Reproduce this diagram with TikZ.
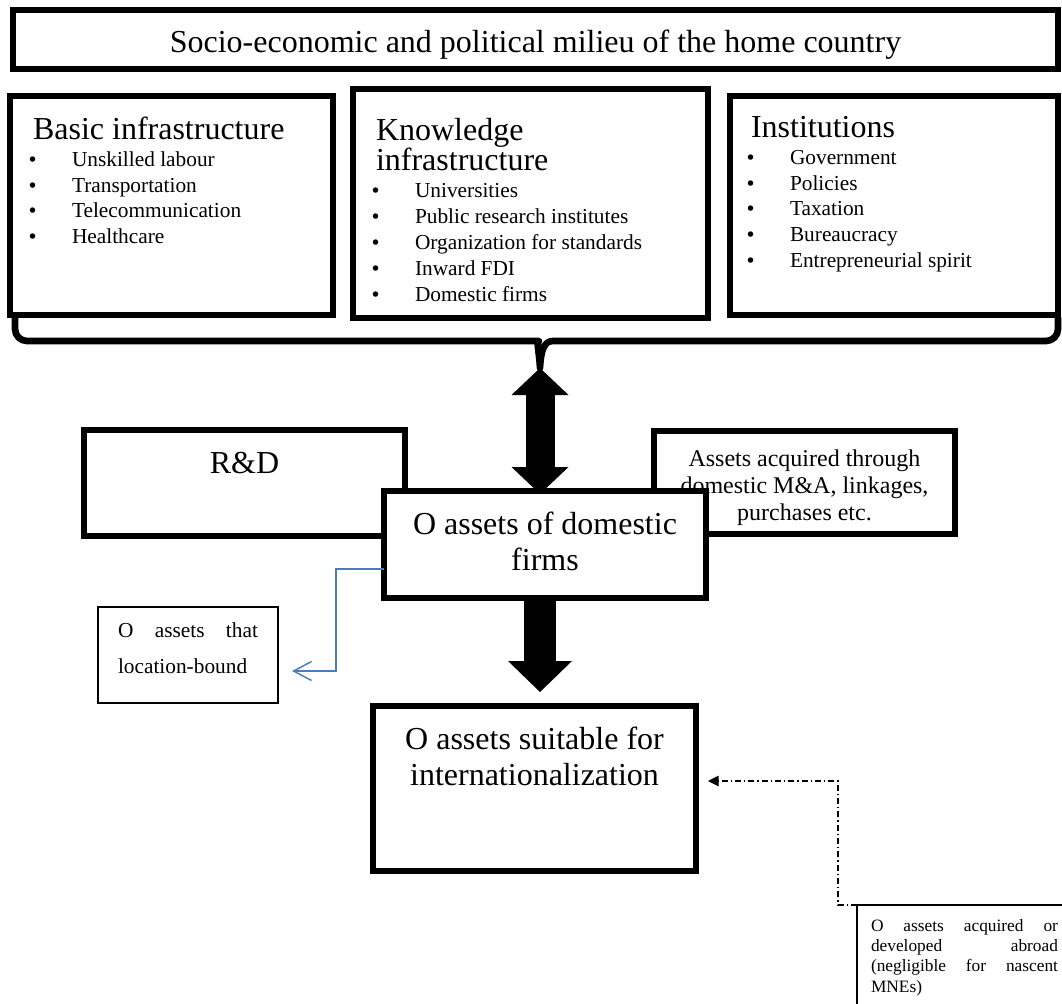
\documentclass[tikz,border=0pt]{standalone}
\usepackage{fontspec}
\setmainfont{Liberation Serif}
\newfontfamily\bulletfont{DejaVu Sans}
\usepackage{tikz}
\usetikzlibrary{arrows.meta, calc, positioning}
\definecolor{linkblue}{HTML}{4A7EBB}
\setlength{\parskip}{0pt}
\setlength{\lineskiplimit}{-20pt}
\newcommand{\boxtitle}[1]{{\fontsize{24}{20.25}\selectfont\leftskip=4.5pt #1\par}\vspace{1pt}}
\newcommand{\itm}[1]{\par\noindent\makebox[33.75pt][l]{\bulletfont\fontsize{14}{19.4}\selectfont •}#1}

\begin{document}
\begin{tikzpicture}[x=0.75pt, y=-0.75pt,
    box/.style={draw, line width=4.5pt, fill=white, outer sep=0pt, inner ysep=0pt, anchor=north west},
    listbox/.style={box, align=flush left, font=\fontsize{16}{19.4}\selectfont},
    bigbox/.style={box, inner xsep=0pt, align=flush center, font=\fontsize{24}{27.5}\selectfont},
    notebox/.style={draw, line width=1pt, fill=white, outer sep=0pt, inner ysep=0pt, anchor=north west, align=justify},
    brace/.style={line width=5pt, line cap=round, line join=round},
    fatboth/.style={line width=21.75pt, {Triangle[length=20.25pt, width=42.75pt, line width=0pt]}-{Triangle[length=20.25pt, width=42.75pt, line width=0pt]}},
    fatdown/.style={line width=24pt, -{Triangle[length=23.25pt, width=48pt, line width=0pt]}},
    bluelink/.style={draw=linkblue, line width=1.1pt, -{Straight Barb[length=13.5pt, width=14.25pt]}},
    dashlink/.style={line width=0.8pt, dash pattern=on 4.5pt off 2.25pt on 1pt off 2.25pt, -{Triangle[length=8pt, width=8pt]}}]
        \useasboundingbox (0, 0) rectangle (1062, 1003);
        \clip (0, 0) rectangle (1062, 1003);

        % home country
        \node[box, align=flush center, inner xsep=0pt, text width=783.75pt, text height=31.5pt, text depth=12.75pt, font=\fontsize{24}{27}\selectfont] (milieu) at (13, 10) {Socio-economic and political milieu of the home country};
        \node[listbox, inner xsep=12.75pt, text width=216.75pt, text height=32.25pt, text depth=132pt] (basic) at (10, 96) {\boxtitle{Basic infrastructure}\itm{Unskilled labour}\itm{Transportation}\itm{Telecommunication}\itm{Healthcare}};
        \node[listbox, inner xsep=12.75pt, text width=240.75pt, text height=38.25pt, text depth=133.5pt] (knowledge) at (353, 89) {\boxtitle{Knowledge\\infrastructure}\itm{Universities}\itm{Public research institutes}\itm{Organization for standards}\itm{Inward FDI}\itm{Domestic firms}};
        \node[listbox, inner xsep=11.25pt, text width=223.5pt, text height=30.75pt, text depth=133.5pt] (institutions) at (730, 96) {\boxtitle{Institutions}\itm{Government}\itm{Policies}\itm{Taxation}\itm{Bureaucracy}\itm{Entrepreneurial spirit}};

        \coordinate (tip) at (540, 368);
        \draw[brace] (15, 318) [rounded corners=9pt] -- (15, 341) -- (527, 341) [sharp corners] .. controls (536, 341) and (539, 350) .. (tip) .. controls (541, 350) and (544, 341) .. (553, 341) [rounded corners=9pt] -- (1058, 341) -- (1058, 318);

        % firm level
        \node[bigbox, text width=240.75pt, text height=32.25pt, text depth=47.25pt] (rnd) at (84, 430) {R\&D};
        \node[box, align=flush center, inner xsep=15.375pt, text width=195pt, text height=26.25pt, text depth=51pt, font=\fontsize{18}{20.25}\selectfont] (acquired) at (654, 431) {Assets acquired through\\domestic M\&A, linkages,\\purchases etc.};
        \node[bigbox, text width=241.5pt, text height=32.25pt, text depth=48pt] (odom) at (384, 491) {O assets of domestic\\firms};
        \node[notebox, inner xsep=15pt, text width=105pt, text height=22.5pt, text depth=49.5pt, font=\fontsize{16}{27.5}\selectfont] (locbound) at (98, 607) {O assets that\linebreak location-bound};
        \node[bigbox, text width=242.25pt, text height=32.25pt, text depth=91.5pt] (osuit) at (373, 706) {O assets suitable for\\internationalization};
        \node[notebox, inner xsep=10.5pt, text width=140.25pt, text height=19.5pt, text depth=63pt, font=\fontsize{13}{15.25}\selectfont] (abroad) at (857, 905) {O assets acquired or\linebreak developed abroad\linebreak (negligible for nascent\linebreak MNEs)};

        \draw[fatboth] (tip) -- ($(tip |- odom.north)+(0, 3)$);
        \draw[fatdown] (tip |- odom.south) -- ($(tip |- osuit.north)+(0, -14)$);
        \draw[bluelink] ($(odom.west)+(0, 24.5)$) -- ++(-48, 0) |- ($(locbound.east)+(14, 16)$);
        \draw[dashlink] (abroad.north west) -- ++(-19, 0) |- ($(osuit.east)+(12, -7.5)$);
\end{tikzpicture}
\end{document}
